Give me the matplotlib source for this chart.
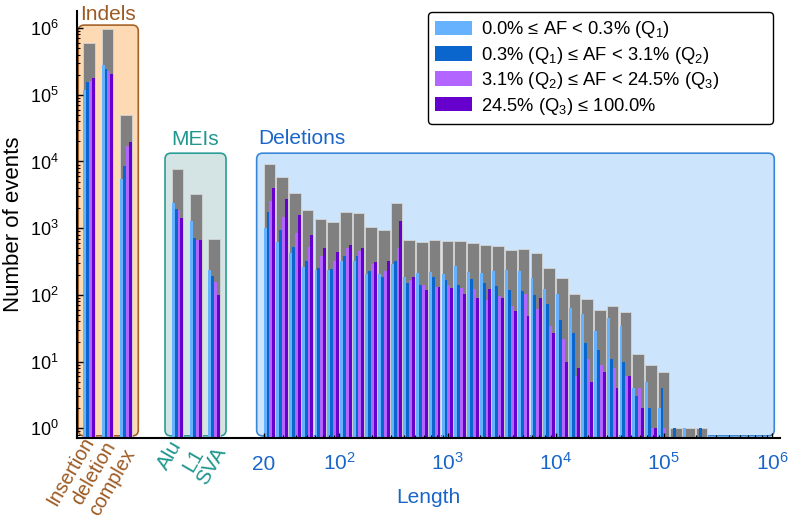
import numpy as np
import matplotlib
matplotlib.use('Agg')
import matplotlib.pyplot as plt
import matplotlib.transforms as mtransforms
from matplotlib.patches import FancyBboxPatch, Patch
from matplotlib.ticker import LogLocator, NullFormatter, LogFormatterMathtext

# Dados (número de eventos por faixa de AF)
indel_cats = ['Insertion', 'deletion', 'complex']
indel_q1 = [116000, 280000, 5400]
indel_q2 = [153000, 245000, 8600]
indel_q3 = [160000, 230000, 16800]
indel_q4 = [178000, 207000, 19300]
indel_total = [596000, 967000, 50000]

mei_cats = ['Alu', 'L1', 'SVA']
mei_q1 = [2400, 1300, 238]
mei_q2 = [1950, 710, 195]
mei_q3 = [1900, 670, 158]
mei_q4 = [1400, 670, 100]
mei_total = [7700, 3200, 690]

# deleções: 40 bins logarítmicos de 20 pb a 1 Mb (só os 35 primeiros têm eventos)
del_edges = np.geomspace(20, 1e6, 41)
del_q1 = [1023, 631, 422, 260, 237, 237, 324, 327, 204, 209, 288, 184, 211, 221, 207, 272, 221, 211,
          232, 237, 232, 182, 122, 104, 63, 52, 29, 45, 34, 4, 5, 2, 0, 1, 0]
del_q2 = [1718, 944, 531, 324, 251, 243, 389, 380, 226, 188, 324, 150, 141, 188, 168, 141, 172, 153,
          136, 119, 116, 101, 73, 42, 27, 19, 15, 11, 10, 3, 2, 4, 1, 0, 1]
del_q3 = [2512, 1462, 861, 519, 385, 327, 513, 462, 292, 232, 501, 168, 141, 133, 141, 126, 122, 84,
          97, 67, 104, 61, 34, 22, 6, 11, 9, 8, 6, 4, 1, 1, 0, 0, 0]
del_q4 = [3981, 2754, 1567, 785, 507, 442, 569, 507, 313, 327, 1303, 184, 119, 130, 127, 104, 89, 122,
          91, 57, 48, 89, 27, 10, 8, 5, 7, 4, 6, 2, 1, 0, 0, 0, 0]
del_total = [9226, 5754, 3350, 1884, 1365, 1245, 1778, 1660, 1035, 955, 2399, 668, 610, 668, 638, 638,
             603, 569, 537, 479, 495, 431, 254, 178, 102, 86, 60, 68, 56, 13, 9, 7, 1, 1, 1]

legend_labels = ['0.0% \u2264 AF < 0.3% ($Q_1$)',
                 '0.3% ($Q_1$) \u2264 AF < 3.1% ($Q_2$)',
                 '3.1% ($Q_2$) \u2264 AF < 24.5% ($Q_3$)',
                 '24.5% ($Q_3$) \u2264 100.0%']
q_colors = ['#66b2ff', '#0a66cc', '#b266ff', '#6600cc']

c_brown, c_teal, c_blue = '#9c5a23', '#1f968f', '#1a66c8'

plt.rcParams['font.family'] = ['Liberation Sans', 'DejaVu Sans']
plt.rcParams['mathtext.fontset'] = 'custom'
plt.rcParams['mathtext.rm'] = 'Liberation Sans'
plt.rcParams['mathtext.it'] = 'Liberation Sans:italic'
plt.rcParams['mathtext.default'] = 'regular'

fig = plt.figure(figsize=(7.88, 5.26), dpi=100)
ax = fig.add_axes([76.5 / 788, 1 - 438 / 526, (780 - 76.5) / 788, (438 - 11) / 526])
ax.set_yscale('log')
ax.set_ylim(0.716, 1.8e6)
ax.set_xlim(-0.429, 6.073)
ax.patch.set_visible(False)

w = 0.107
blend = mtransforms.blended_transform_factory(ax.transData, ax.transAxes)


def caixa(u0, u1, top, fc, ec):
    p = FancyBboxPatch((u0, 0.005), u1 - u0, top - 0.005,
                       boxstyle='round,pad=0,rounding_size=0.055', mutation_aspect=108.2 / 427,
                       transform=blend, fc=fc, ec=ec, lw=1.2, zorder=0.5, clip_on=False)
    ax.add_patch(p)


def barras(x, qs, total):
    x = np.asarray(x)
    ax.bar(x, total, width=w, align='edge', color='#808080', edgecolor='#d4d4d4', lw=0.6, zorder=1.2)
    for j, (vals, col) in enumerate(zip(qs, q_colors)):
        v = np.asarray(vals, dtype=float)
        m = v > 0
        ax.bar(x[m] + j * w / 4, v[m], width=w / 4, align='edge', color=col, lw=0, zorder=1.4)


indel_x = -0.366 + 0.17 * np.arange(len(indel_cats))
mei_x = 0.451 + 0.169 * np.arange(len(mei_cats))
del_x = np.log10(del_edges[:len(del_total)])

caixa(-0.413, 0.142, 0.967, '#fdd9b4', '#a5632a')
caixa(0.389, 0.953, 0.667, '#d4e4e4', '#2a9d96')
caixa(1.236, 6.02, 0.667, '#cce5fd', '#3a86d6')

barras(indel_x, [indel_q1, indel_q2, indel_q3, indel_q4], indel_total)
barras(mei_x, [mei_q1, mei_q2, mei_q3, mei_q4], mei_total)
barras(del_x, [del_q1, del_q2, del_q3, del_q4], del_total)

# eixos
for s in ['top', 'right']:
    ax.spines[s].set_visible(False)
for s in ['left', 'bottom']:
    ax.spines[s].set_linewidth(1.5)

ax.yaxis.set_major_locator(LogLocator(base=10, numticks=20))
ax.yaxis.set_minor_locator(LogLocator(base=10, subs=np.arange(2, 10), numticks=100))
ax.yaxis.set_major_formatter(LogFormatterMathtext())
ax.yaxis.set_minor_formatter(NullFormatter())
ax.tick_params(axis='y', which='major', direction='in', length=4.5, width=1, labelsize=13, pad=13)
ax.tick_params(axis='y', which='minor', direction='in', length=2.5, width=0.8)

ax.set_xticks([np.log10(20), 2, 3, 4, 5, 6])
ax.set_xticklabels(['20', '$10^2$', '$10^3$', '$10^4$', '$10^5$', '$10^6$'])
ax.set_xticks([np.log10(m * 10.0 ** n) for n in range(1, 6) for m in range(2, 10) if m * 10 ** n > 20],
              minor=True)
ax.tick_params(axis='x', which='major', direction='in', length=3.6, width=1, labelsize=15,
               labelcolor=c_blue, pad=23)
ax.tick_params(axis='x', which='minor', direction='in', length=2.2, width=0.8)
for lb in ax.get_xticklabels():
    lb.set_verticalalignment('baseline')

ax.set_ylabel('Number of events', fontsize=16)
ax.yaxis.set_label_coords(-0.074, 0.5)

# rótulos das categorias (deslocamentos em pixels a partir da borda esquerda da barra)
indel_off = [(-2.5, 4.0), (0.8, -0.5), (2.5, -8.0)]
mei_off = [(-2.2, 0.4), (0.5, -7.6), (5.2, -5.7)]
for xi, name, (dx, dy) in zip(indel_x, indel_cats, indel_off):
    tr = mtransforms.offset_copy(blend, fig=fig, x=dx, y=dy, units='dots')
    ax.text(xi, 0, name, rotation=60, ha='right', va='top', rotation_mode='anchor',
            transform=tr, color=c_brown, fontsize=14.2, clip_on=False)
for xi, name, (dx, dy) in zip(mei_x, mei_cats, mei_off):
    tr = mtransforms.offset_copy(blend, fig=fig, x=dx, y=dy, units='dots')
    ax.text(xi, 0, name, rotation=60, ha='right', va='top', rotation_mode='anchor',
            transform=tr, color=c_teal, fontsize=15, clip_on=False)

ax.text(-0.135, 0.979, 'Indels', ha='center', va='baseline', transform=blend, color=c_brown, fontsize=15)
ax.text(0.671, 0.686, 'MEIs', ha='center', va='baseline', transform=blend, color=c_teal, fontsize=15)
ax.text(1.25, 0.689, 'Deletions', ha='left', va='baseline', transform=blend, color=c_blue, fontsize=15)
fig.text(428 / 788, 1 - 502.7 / 526, 'Length', ha='center', va='baseline', color=c_blue, fontsize=15)

handles = [Patch(facecolor=c, edgecolor='none') for c in q_colors]
leg = ax.legend(handles, legend_labels, loc='upper left',
                bbox_to_anchor=(428 / 788, 1 - 125 / 526, 345 / 788, 113 / 526), mode='expand',
                bbox_transform=fig.transFigure, borderaxespad=0, fontsize=13.2, handlelength=2.0,
                handleheight=0.85, handletextpad=0.5, borderpad=0.4, labelspacing=0.24,
                fancybox=True, framealpha=1, edgecolor='black')
leg.get_frame().set_linewidth(1.0)

fig.savefig('out.png', dpi=100)
